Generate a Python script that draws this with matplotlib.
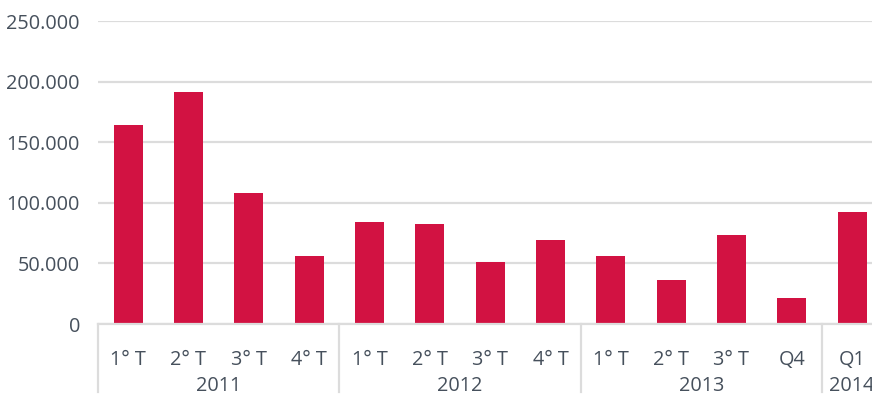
import matplotlib
matplotlib.use("Agg")
import matplotlib.pyplot as plt
from matplotlib.ticker import FuncFormatter

plt.rcParams['font.family'] = ['Open Sans', 'DejaVu Sans']

quarters = ["1° T", "2° T", "3° T", "4° T",
            "1° T", "2° T", "3° T", "4° T",
            "1° T", "2° T", "3° T", "Q4",
            "Q1"]
values = [164000, 191700, 108100, 56400,
          83900, 82800, 50900, 69000,
          56400, 36300, 73400, 21200,
          92700]
years = ["2011", "2012", "2013", "2014"]
year_sizes = [4, 4, 4, 1]

bar_color = "#D21242"
text_color = "#46505C"
grid_color = "#DCDCDC"

fig = plt.figure(figsize=(8.72, 3.95), dpi=100)
ax = fig.add_axes([98/872, 1 - 324/395, (872 - 98)/872, (324 - 21.3)/395])

x = list(range(len(values)))
ax.bar(x, values, width=0.48, color=bar_color, zorder=3)

ax.set_ylim(0, 250000)
ax.set_xlim(-0.5, 12.33)
ax.set_yticks([0, 50000, 100000, 150000, 200000, 250000])
ax.yaxis.set_major_formatter(FuncFormatter(lambda v, p: f"{int(v):,}".replace(",", ".")))
ax.grid(axis='y', color=grid_color, linewidth=1.6, zorder=0)
ax.tick_params(axis='y', length=0, pad=13, labelsize=14.3, labelcolor=text_color)
ax.set_xticks(x)
ax.set_xticklabels(quarters)
ax.tick_params(axis='x', length=0, pad=18.5, labelsize=14.3, labelcolor=text_color)

for s in ['top', 'right', 'left']:
    ax.spines[s].set_visible(False)
ax.spines['bottom'].set_color(grid_color)
ax.spines['bottom'].set_linewidth(1.6)
ax.spines['bottom'].set_zorder(4)

# group separators and year labels
trans = ax.get_xaxis_transform()
start = 0
bounds = [-0.5]
for yr, n in zip(years, year_sizes):
    center = start + (n - 1) / 2
    ax.text(center, -62/303, yr, transform=trans, ha='center', va='center',
            fontsize=14.3, color=text_color, clip_on=False)
    start += n
    bounds.append(start - 0.5)
for b in bounds:
    ax.plot([b, b], [0, -68/303], transform=trans, color=grid_color,
            linewidth=1.6, clip_on=False, zorder=4)

fig.savefig("out.png", dpi=100)
